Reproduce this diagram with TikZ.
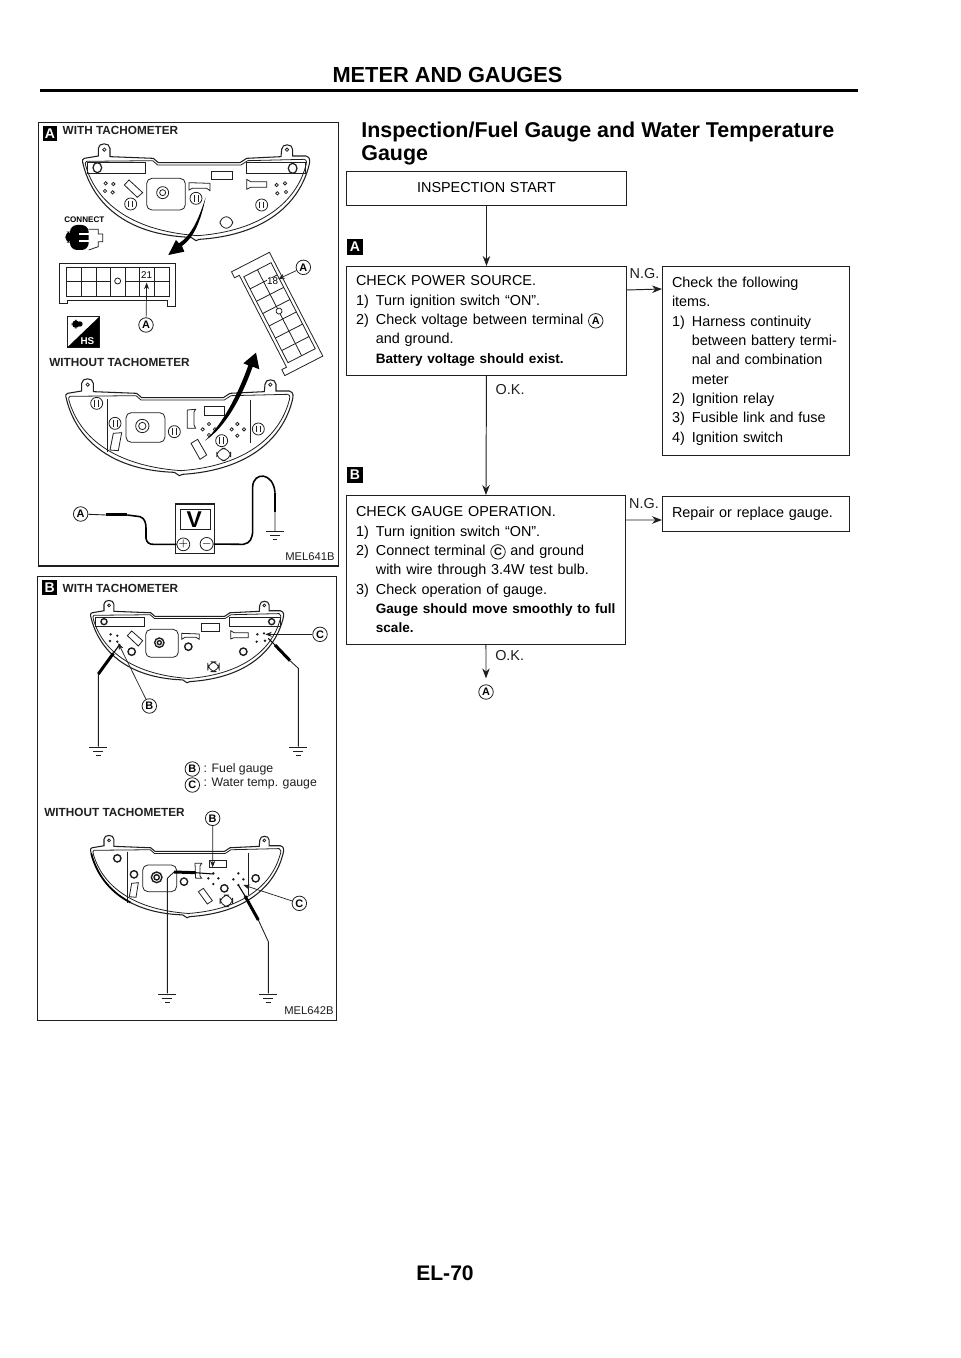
\documentclass[tikz,border=0pt]{standalone}
\usepackage{fontspec}
\setmainfont{Liberation Sans}
\usepackage{tikz}
\usetikzlibrary{arrows.meta,calc}
\definecolor{ink}{gray}{.12}
\tikzset{flowbox/.style={draw=ink,line width=.55pt,anchor=north west,inner xsep=.2cm,inner ysep=0pt,outer sep=0pt,
           align=left,font=\fontsize{8.2}{11}\selectfont},
         flowtext/.style={inner sep=0pt,font=\fontsize{8.2}{11}\selectfont},
         flowvec/.style={-{Stealth[length=2mm,width=1.5mm]},line width=.55pt,ink},
         tag/.style={fill=black,text=white,inner sep=0pt,minimum size=.31cm,font=\bfseries\fontsize{8}{8}\selectfont},
         headtext/.style={inner sep=0pt,font=\bfseries\fontsize{6.7}{8}\selectfont,text=ink},
         smalltext/.style={inner sep=0pt,font=\fontsize{6.4}{8}\selectfont,text=ink},
         ringlet/.style={circle,draw=ink,line width=.45pt,inner sep=0pt,minimum size=.29cm,fill=white,
           font=\bfseries\fontsize{6.2}{6.2}\selectfont},
         part/.style={line width=.45pt,ink},
         wire/.style={line width=.5pt,ink},
         probe/.style={line width=1.7pt,black},
         leader/.style={-{Stealth[length=1.3mm,width=1mm]},line width=.4pt,ink}}
\newcommand{\earth}[1]{\begin{scope}[shift={#1}]
    \draw[part] (-27,0)--(27,0) (-15,12)--(15,12) (-7,24)--(7,24);
  \end{scope}}
\newcommand{\bezel}[2]{\begin{scope}[shift={#1},scale=#2]
    \draw[line width=.6pt,ink] (5,45)--(47,38)--(47,15) .. controls (47,-3) and (82,-3) .. (82,15)--(82,40)
      --(212,45)--(227,58)--(472,58)--(492,45)--(595,40)--(597,18) .. controls (597,0) and (630,0) .. (630,18)
      --(630,38)--(670,38) .. controls (685,42) and (682,55) .. (678,70)
      .. controls (650,175) and (555,275) .. (350,288)--(340,292)--(325,282)
      .. controls (125,275) and (30,175) .. (2,65) .. controls (-3,50) and (0,45) .. (5,45)--cycle;
    \draw[part] (12,54)--(210,52)--(225,65)--(475,65)--(495,52)--(665,48)
      .. controls (674,50) and (672,60) .. (668,72)
      .. controls (640,170) and (545,262) .. (345,277)
      .. controls (135,262) and (40,170) .. (10,70) .. controls (7,60) and (7,56) .. (12,54)--cycle;
    \draw[part] (65,19) circle (5) (613,19) circle (5);
  \end{scope}}
\newcommand{\ringtext}[1]{\tikz[baseline=(rr.base)]\node[ringlet] (rr) {#1};}
\newcommand{\itm}[1]{\makebox[1.38em][l]{#1)}}
\newcommand{\cont}{\hspace*{1.38em}}
\newcommand{\boldline}[1]{\textbf{\fontsize{7.72}{11}\selectfont #1}}
\begin{document}
\begin{tikzpicture}[x=.02cm,y=-.02cm]
  \useasboundingbox (0,0) rectangle (960,1358);
  \fill[white] (0,0) rectangle (960,1358);

  % page furniture
  \node[inner sep=0pt,font=\bfseries\fontsize{12.4}{14}\selectfont] (pagehead) at (447.5,75) {METER AND GAUGES};
  \coordinate (ruleL) at (40,90.5);
  \coordinate (ruleR) at (858,90.5);
  \draw[line width=1.5pt,black] (ruleL)--(ruleR);
  \node[inner sep=0pt,font=\bfseries\fontsize{12}{14}\selectfont] (pageno) at (445,1273) {EL-70};
  \node[anchor=north west,inner sep=0pt,align=left,font=\bfseries\fontsize{12.2}{13.1}\selectfont] (title) at (361,122)
    {Inspection/Fuel Gauge and Water Temperature\\Gauge};

  % flow chart
  \node[flowbox,minimum width=5.62cm,text width=5.22cm,minimum height=.68cm,align=center] (start) at (346,171)
    {INSPECTION START\\[2pt]};
  \node[tag] (tagA) at (355,247) {A};
  \node[flowbox,minimum height=2.2cm,text width=5.22cm] (power) at (346,266)
    {CHECK POWER SOURCE.\\
     \itm{1}Turn ignition switch ``ON''.\\
     \itm{2}Check voltage between terminal \ringtext{A}\\
     \cont and ground.\\
     \cont\boldline{Battery voltage should exist.}};
  \node[flowbox,minimum height=3.8cm,text width=3.36cm] (check) at (662,266)
    {Check the following\\
     items.\\
     \itm{1}Harness continuity\\
     \cont between battery termi-\\
     \cont nal and combination\\
     \cont meter\\
     \itm{2}Ignition relay\\
     \itm{3}Fusible link and fuse\\
     \itm{4}Ignition switch};
  \node[tag] (tagB) at (355,475) {B};
  \node[flowbox,minimum height=3cm,text width=5.2cm] (gauge) at (346,495)
    {CHECK GAUGE OPERATION.\\
     \itm{1}Turn ignition switch ``ON''.\\
     \itm{2}Connect terminal \ringtext{C} and ground\\
     \cont with wire through 3.4W test bulb.\\
     \itm{3}Check operation of gauge.\\
     \cont\boldline{Gauge should move smoothly to full}\\
     \cont\boldline{scale.}};
  \node[flowbox,minimum height=.7cm,text width=3.36cm] (repair) at (662,496) {Repair or replace gauge.};
  \node[ringlet,draw=ink] (backA) at (486,692) {A};
  \draw[flowvec] (start.south)--(power.north);
  \draw[flowvec] (power.south)--node[flowtext,pos=.11,right=5pt]{O.K.} (gauge.north);
  \draw[flowvec] (gauge.south)--node[flowtext,pos=.32,right=5pt]{O.K.} ($(backA.north)+(0,-6)$);
  \draw[flowvec] ($(power.east)+(0,-31)$)--node[flowtext,above=6pt]{N.G.} ($(check.west)+(0,-72)$);
  \draw[flowvec] ($(gauge.east)+(0,-50)$)--node[flowtext,above=6pt]{N.G.} ($(repair.west)+(0,6.5)$);

  % panel A
  \begin{scope}[shift={(30,110)},scale=1/3]
    \draw[line width=.6pt,ink] (25,38) rectangle (925,1368);
    \node[tag,minimum size=.3cm] (panelA) at (60,72) {A};
    \node[headtext,anchor=west] (withA) at (97,62) {WITH TACHOMETER};
    % meter with tachometer
    \bezel{(158,100)}{1}
    \draw[part] (172,158) rectangle (345,190) (648,158) rectangle (825,190);
    \draw[line width=.7pt,ink] (202,173) ellipse (13 and 15) (788,175) ellipse (13 and 15);
    \foreach \p in {(227,220),(250,222),(225,243),(248,247),(740,225),(765,220),(742,250),(768,246)}
      \draw[part] \p circle (5);
    \draw[part] (283,225)--(297,210)--(338,248)--(322,262)--cycle;
    \draw[part,rounded corners=3] (350,205) rectangle (466,300);
    \draw[part] (398,248) circle (18) (398,248) circle (9);
    \draw[part] (477,240)--(477,218)--(540,220)--(540,242)--(530,235)--(487,235)--cycle;
    \draw[part] (545,183) rectangle (608,208);
    \draw[part] (650,238)--(650,208)--(662,215)--(710,215)--(710,232)--(662,232)--cycle;
    \foreach \px/\py in {302/282,498/265,695/285}{
      \draw[part] (\px,\py) circle (18);
      \draw[part] (\px-6,\py-10)--(\px-6,\py+10) (\px+6,\py-10)--(\px+6,\py+10);}
    \draw[part,rounded corners=4] (570,320) rectangle (608,355);
    \fill[black] (527,262) .. controls (512,335) and (490,385) .. (456,408)--(463,425)--(415,435)--(438,390)--(447,400)
      .. controls (485,375) and (505,330) .. (527,262)--cycle;
    % connect symbol
    \node[inner sep=0pt,font=\bfseries\fontsize{4.6}{5}\selectfont] (connect) at (163,330) {CONNECT};
    \fill[black,rounded corners=4] (120,345) rectangle (176,420);
    \fill[black,rounded corners=3] (106,365) rectangle (125,398);
    \draw[part] (176,358)--(205,358)--(205,372)--(218,372)--(218,395)--(205,395)--(205,410)--(176,420);
    \draw[white,line width=1pt] (148,372)--(176,372) (148,392)--(176,392);
    % connector with 21
    \draw[part] (88,460)--(437,460)--(437,590)--(412,590)--(412,572)--(112,572)--(112,580)--(88,580)--cycle;
    \draw[part] (108,472) rectangle (417,560);
    \foreach \x in {155,200,240,285,328,372}
      \draw[part] (\x,472)--(\x,560);
    \draw[part] (108,515)--(240,515) (285,515)--(417,515);
    \draw[part,fill=white] (263,513) circle (9);
    \node[inner sep=0pt,fill=white,font=\fontsize{5.6}{6}\selectfont] (pin21) at (350,495) {21};
    \node[ringlet] (ringA1) at (348,645) {A};
    \coordinate (tip21) at (350,518);
    \draw[leader] (ringA1)--(tip21);
    % hs symbol
    \draw[part] (112,618) rectangle (208,712);
    \fill[black] (112,712)--(208,620)--(208,712)--cycle;
    \fill[black,rounded corners=3] (125,630) rectangle (150,655);
    \fill[black] (150,642) circle (8);
    \node[inner sep=0pt,text=white,font=\bfseries\fontsize{5.6}{6}\selectfont] (hs) at (172,692) {HS};
    % slanted connector with 18
    \begin{scope}[shift={(745,610)},rotate=27.2]
      \draw[part] (-68,-175)--(60,-175)--(60,175)--(-68,175)--(-68,155)--(-52,155)--(-52,-155)--(-68,-155)--cycle;
      \draw[part] (-42,-145) rectangle (50,145);
      \draw[part] (4,-145)--(4,145);
      \foreach \y in {-104,-62,-21,21,62,104}
        \draw[part] (-42,\y)--(50,\y);
      \draw[part,fill=white] (5,-5) circle (9);
    \end{scope}
    \node[inner sep=0pt,fill=white,font=\fontsize{5.6}{6}\selectfont] (pin18) at (728,514) {18};
    \node[ringlet] (ringA2) at (820,472) {A};
    \coordinate (tip18) at (745,507);
    \draw[leader] (ringA2)--(tip18);
    % meter without tachometer
    \node[headtext,anchor=west] (withoutA) at (57,758) {WITHOUT TACHOMETER};
    \bezel{(108,805)}{1}
    \draw[part] (232,868)--(232,1025) (662,870)--(662,1000);
    \foreach \px/\py in {200/880,255/940,433/965,685/957,575/992}{
      \draw[part] (\px,\py) circle (18);
      \draw[part] (\px-6,\py-10)--(\px-6,\py+10) (\px+6,\py-10)--(\px+6,\py+10);}
    \draw[part,rounded corners=3] (288,908) rectangle (405,997);
    \draw[part] (337,948) circle (20) (337,948) circle (11);
    \draw[part] (472,900)--(497,898)--(492,906)--(492,945)--(497,955)--(472,955)--cycle;
    \draw[part] (522,888) rectangle (583,915);
    \foreach \p in {(537,942),(518,958),(555,958),(537,975),(622,942),(605,958),(642,958),(622,977)}
      \draw[part] \p circle (5);
    \draw[part] (250,970)--(275,968)--(265,1022)--(240,1020)--cycle;
    \draw[part] (483,1000)--(503,988)--(530,1035)--(510,1048)--cycle;
    \draw[part,rounded corners=5] (560,1015) rectangle (602,1052);
    \fill[black] (525,992) .. controls (590,950) and (640,850) .. (668,770)--(688,778)--(678,728)--(640,760)--(655,766)
      .. controls (625,850) and (580,940) .. (525,992)--cycle;
    % voltmeter
    \draw[line width=.6pt,ink] (437,1182) rectangle (553,1330);
    \draw[part] (450,1197) rectangle (540,1258);
    \node[inner sep=0pt,font=\bfseries\fontsize{13}{14}\selectfont] (volt) at (493,1228) {V};
    \node[circle,draw=ink,line width=.45pt,inner sep=0pt,minimum size=.2cm,font=\bfseries\fontsize{6}{6}\selectfont] (plus) at (460,1303) {$+$};
    \node[circle,draw=ink,line width=.45pt,inner sep=0pt,minimum size=.2cm,font=\bfseries\fontsize{6}{6}\selectfont] (minus) at (530,1302) {$-$};
    \node[ringlet] (ringA3) at (152,1212) {A};
    \coordinate (probeA) at (228,1215);
    \coordinate (probeB) at (292,1215);
    \draw[wire] (ringA3)--(probeA);
    \draw[probe] (probeA)--(probeB);
    \draw[line width=.9pt,black] (probeB)--(330,1220) .. controls (345,1225) and (348,1240) .. (348,1255)
      --(348,1285) .. controls (350,1298) and (358,1303) .. (370,1303)--(plus);
    \coordinate (probeC) at (735,1148);
    \coordinate (probeD) at (735,1205);
    \draw[line width=.9pt,black] (minus)--(640,1303) .. controls (660,1300) and (668,1285) .. (668,1260)
      --(668,1130) .. controls (670,1085) and (730,1085) .. (probeC);
    \draw[probe] (probeC)--(probeD);
    \draw[wire] (probeD)--(735,1265);
    \earth{(735,1265)}
    \node[smalltext,anchor=east] (mel1) at (915,1340) {MEL641B};
  \end{scope}

  % panel B
  \begin{scope}[shift={(30,570)},scale=1/3]
    \draw[line width=.6pt,ink] (22,20) rectangle (920,1352);
    \node[tag,minimum size=.3cm] (panelB) at (59,52) {B};
    \node[headtext,anchor=west] (withB) at (97,55) {WITH TACHOMETER};
    \bezel{(182,90)}{.85}
    \draw[part] (195,143) rectangle (343,170) (598,143) rectangle (750,170);
    \draw[line width=.8pt,ink] (222,155) circle (9) (725,155) circle (9);
    \foreach \p in {(242,193),(262,197),(240,213),(262,215),(682,193),(702,190),(680,215),(705,212)}
      \fill[ink] \p circle (4);
    \draw[part] (292,197)--(305,183)--(338,212)--(325,228)--cycle;
    \draw[part,rounded corners=3] (347,178) rectangle (445,262);
    \draw[line width=.8pt,ink] (388,218) circle (14) (388,218) circle (6);
    \draw[part] (455,208)--(455,190)--(508,192)--(508,208)--(498,202)--(465,202)--cycle;
    \draw[part] (515,160) rectangle (567,185);
    \draw[part] (602,207)--(602,182)--(612,188)--(655,188)--(655,203)--(612,203)--cycle;
    \foreach \p in {(305,245),(475,230),(640,245)}
      \draw[line width=.8pt,ink] \p circle (11);
    \draw[part,rounded corners=5] (533,275) rectangle (568,305);
    % test leads
    \coordinate (probeE) at (270,222);
    \coordinate (probeF) at (205,312);
    \draw[line width=.6pt,black] (probeE)--(250,250);
    \draw[probe] (250,250)--(probeF);
    \draw[wire] (probeF)--(205,530);
    \earth{(205,532)}
    \coordinate (probeG) at (715,205);
    \coordinate (probeH) at (780,272);
    \draw[line width=.6pt,black] (probeG)--(735,225);
    \draw[probe] (735,225)--(probeH);
    \draw[wire] (probeH)--(805,295)--(805,530);
    \earth{(805,532)}
    \node[ringlet] (ringB1) at (358,408) {B};
    \coordinate (tipB1) at (265,220);
    \draw[leader] (ringB1)--(tipB1);
    \node[ringlet] (ringC1) at (870,193) {C};
    \coordinate (tipC1) at (706,193);
    \draw[leader] (ringC1)--(tipC1);
    % legend
    \node[ringlet] (ringB2) at (487,597) {B};
    \node[smalltext,anchor=west,font=\fontsize{7}{8}\selectfont] (fuel) at (520,597) {: Fuel  gauge};
    \node[ringlet] (ringC2) at (487,645) {C};
    \node[smalltext,anchor=west,font=\fontsize{7}{8}\selectfont] (water) at (520,642) {: Water temp. gauge};
    % meter without tachometer
    \node[headtext,anchor=west] (withoutB) at (42,728) {WITHOUT TACHOMETER};
    \bezel{(182,795)}{.85}
    \draw[part] (292,845)--(292,1000) (655,850)--(655,975);
    \foreach \p in {(262,865),(312,913),(462,935),(583,955),(677,925)}
      \draw[line width=.8pt,ink] \p circle (11);
    \draw[part,rounded corners=3] (338,885) rectangle (440,965);
    \draw[line width=.8pt,ink] (380,922) circle (16) (380,922) circle (8);
    \draw[part] (495,880)--(515,880)--(510,888)--(510,918)--(515,925)--(497,925)--cycle;
    \draw[part] (538,870) rectangle (590,892);
    \foreach \p in {(550,910),(535,925),(565,925),(550,942),(625,910),(610,928),(640,928),(625,945)}
      \fill[ink] \p circle (4);
    \draw[part] (305,940)--(325,938)--(318,982)--(298,980)--cycle;
    \draw[part] (505,965)--(520,955)--(547,992)--(532,1002)--cycle;
    \draw[part,rounded corners=5] (570,975) rectangle (608,1010);
    \begin{scope}[shift={(182,795)},scale=.85]
      \draw[line width=1pt,black] (2,65) .. controls (19.4,133.2) and (62.5,197.6) .. (140.4,238.3);
    \end{scope}
    \coordinate (probeI) at (432,906);
    \coordinate (probeJ) at (495,908);
    \draw[wire] (412,1270)--(412,925)--(probeI);
    \draw[probe] (probeI)--(probeJ);
    \draw[line width=.6pt,black] (probeJ)--(550,912);
    \earth{(412,1272)}
    \coordinate (probeK) at (625,945);
    \coordinate (probeL) at (685,1050);
    \draw[line width=.6pt,black] (probeK)--(645,978);
    \draw[probe] (645,978)--(probeL);
    \draw[wire] (probeL)--(715,1115)--(715,1270);
    \earth{(715,1272)}
    \node[ringlet] (ringB3) at (548,745) {B};
    \coordinate (tipB3) at (548,892);
    \draw[leader] (ringB3)--(tipB3);
    \node[ringlet] (ringC3) at (808,1000) {C};
    \coordinate (tipC3) at (640,945);
    \draw[leader] (ringC3)--(tipC3);
    \node[smalltext,anchor=east] (mel2) at (912,1322) {MEL642B};
  \end{scope}
\end{tikzpicture}
\end{document}
